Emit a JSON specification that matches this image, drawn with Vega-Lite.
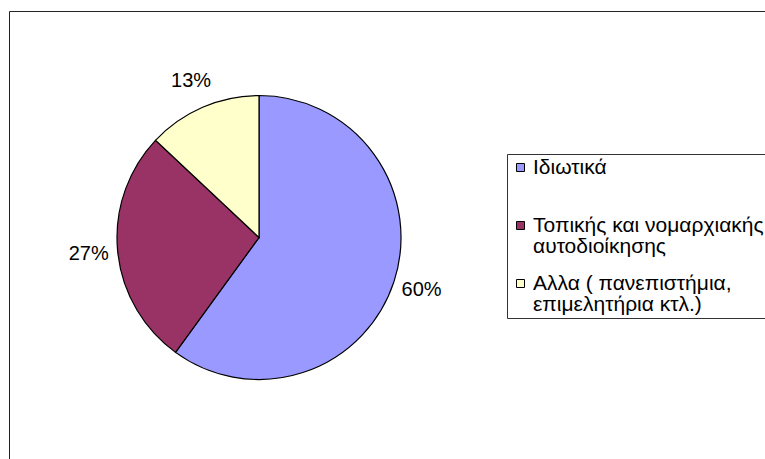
{
  "$schema": "https://vega.github.io/schema/vega-lite/v6.json",
  "width": 800,
  "height": 500,
  "autosize": {"type": "none"},
  "padding": {"left": 9, "top": 11, "right": -44, "bottom": -52},
  "background": "white",
  "view": {"stroke": "#222222", "strokeWidth": 1, "fill": "white"},
  "config": {"view": {"stroke": "#222222", "strokeWidth": 1}, "font": "Liberation Sans"},
  "data": {
    "values": [
      {"category": "Ιδιωτικά", "share": 60, "label": "60%", "order": 1},
      {"category": "Τοπικής και νομαρχιακής αυτοδιοίκησης", "share": 27, "label": "27%", "order": 2},
      {"category": "Αλλα ( πανεπιστήμια, επιμελητήρια κτλ.)", "share": 13, "label": "13%", "order": 3}
    ]
  },
  "encoding": {
    "theta": {"field": "share", "type": "quantitative", "stack": true},
    "order": {"field": "order", "type": "quantitative"}
  },
  "layer": [
    {
      "mark": {"type": "arc", "x": 250, "y": 226.5, "outerRadius": 142, "stroke": "black", "strokeWidth": 1.2},
      "encoding": {
        "color": {
          "field": "category",
          "type": "nominal",
          "scale": {
            "domain": ["Ιδιωτικά", "Τοπικής και νομαρχιακής αυτοδιοίκησης", "Αλλα ( πανεπιστήμια, επιμελητήρια κτλ.)"],
            "range": ["#9999FF", "#993366", "#FFFFCC"]
          },
          "legend": {
            "orient": "none",
            "legendX": 498,
            "legendY": 143,
            "title": null,
            "symbolType": "square",
            "symbolSize": 64,
            "symbolStrokeColor": "black",
            "symbolStrokeWidth": 1,
            "symbolOpacity": 1,
            "symbolOffset": 0,
            "labelFont": "Liberation Sans",
            "labelFontSize": 21,
            "labelColor": "black",
            "labelLimit": 0,
            "labelOffset": 2,
            "labelBaseline": "middle",
            "rowPadding": 15,
            "padding": 3,
            "strokeColor": "#333333",
            "fillColor": "white",
            "labelExpr": "datum.label == 'Ιδιωτικά' ? ['Ιδιωτικά', ''] : datum.label == 'Τοπικής και νομαρχιακής αυτοδιοίκησης' ? ['Τοπικής και νομαρχιακής', 'αυτοδιοίκησης'] : ['Αλλα ( πανεπιστήμια,', 'επιμελητήρια κτλ.)']",
            "encode": {
              "labels": {"update": {"lineHeight": {"value": 21}}}
            }
          }
        }
      }
    },
    {
      "mark": {"type": "text", "x": 250, "y": 226.5, "radius": 171, "fontSize": 20, "font": "Liberation Sans", "color": "black"},
      "encoding": {"text": {"field": "label", "type": "nominal"}}
    }
  ]
}
